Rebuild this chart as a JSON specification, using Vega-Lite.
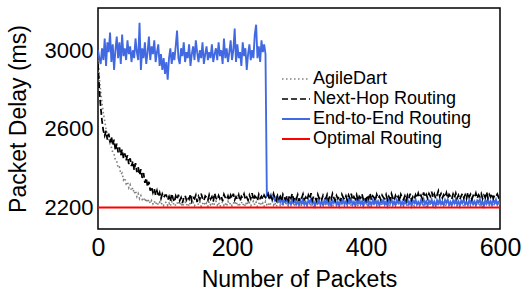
{
"$schema": "https://vega.github.io/schema/vega-lite/v6.json",
"width": 402,
"height": 221,
"autosize": {"type": "none"},
"padding": {"left": 98, "top": 8, "right": 32, "bottom": 74},
"config": {"view": {"stroke": "black", "strokeWidth": 1.5}, "font": "Liberation Sans"},
"encoding": {
  "x": {"field": "x", "type": "quantitative", "scale": {"domain": [0, 600], "nice": false},
        "axis": {"values": [0, 200, 400, 600], "format": "d", "title": "Number of Packets", "grid": false, "ticks": false, "domain": false,
                 "labelFontSize": 25, "titleFontSize": 23, "labelPadding": 6, "titlePadding": 8, "titleFontWeight": "normal",
                 "labelColor": "black", "titleColor": "black", "labelFlush": false}},
  "y": {"field": "y", "type": "quantitative", "scale": {"domain": [2090, 3215], "nice": false, "zero": false},
        "axis": {"values": [2200, 2600, 3000], "format": "d", "title": "Packet Delay (ms)", "grid": false, "ticks": false, "domain": false,
                 "labelFontSize": 22, "titleFontSize": 23, "labelPadding": 5, "titlePadding": 14, "titleFontWeight": "normal",
                 "labelColor": "black", "titleColor": "black"}},
  "color": {"field": "s", "type": "nominal",
            "scale": {"domain": ["a", "n", "e", "o"], "range": ["#808080", "#000000", "#4169e1", "#ff0000"]},
            "legend": {"title": null, "orient": "none", "legendX": 187, "legendY": 60, "symbolType": "M-1.4,0H1.4", "symbolSize": 400,
                       "symbolStrokeWidth": 1.5, "symbolFillColor": "transparent", "labelFontSize": 18, "labelOffset": 6, "rowPadding": 0, "padding": 0, "labelColor": "black",
                       "labelExpr": "datum.label=='a'?'AgileDart':datum.label=='n'?'Next-Hop Routing':datum.label=='e'?'End-to-End Routing':'Optimal Routing'"}},
  "strokeDash": {"field": "s", "type": "nominal",
            "scale": {"domain": ["a", "n", "e", "o"], "range": [[1.5, 2.5], [6, 3], [1, 0], [1, 0]]},
            "legend": {"title": null, "orient": "none", "legendX": 187, "legendY": 60, "symbolType": "M-1.4,0H1.4", "symbolSize": 400,
                       "symbolStrokeWidth": 1.5, "symbolFillColor": "transparent", "labelFontSize": 18, "labelOffset": 6, "rowPadding": 0, "padding": 0, "labelColor": "black",
                       "labelExpr": "datum.label=='a'?'AgileDart':datum.label=='n'?'Next-Hop Routing':datum.label=='e'?'End-to-End Routing':'Optimal Routing'"}},
  "strokeWidth": {"field": "s", "type": "nominal",
            "scale": {"domain": ["a", "n", "e", "o"], "range": [1.6, 2, 1.6, 2]}, "legend": null}
},
"layer": [
{
"data": {"values": [
{"x":0,"a":2950,"n":2930,"e":3000},
{"x":2,"a":2860,"n":2800,"e":2960},
{"x":4,"a":2790,"n":2710,"e":2930},
{"x":6,"a":2730,"n":2640,"e":3010},
{"x":8,"a":2680,"n":2590,"e":2950},
{"x":10,"a":2640,"n":2565,"e":3060},
{"x":12,"a":2600,"n":2590,"e":2920},
{"x":14,"a":2570,"n":2545,"e":3040},
{"x":16,"a":2555,"n":2575,"e":2990},
{"x":18,"a":2520,"n":2530,"e":3090},
{"x":20,"a":2505,"n":2560,"e":2940},
{"x":22,"a":2480,"n":2515,"e":3030},
{"x":24,"a":2470,"n":2545,"e":2900},
{"x":26,"a":2440,"n":2490,"e":3000},
{"x":28,"a":2435,"n":2525,"e":3070},
{"x":30,"a":2400,"n":2480,"e":2960},
{"x":32,"a":2405,"n":2505,"e":3040},
{"x":34,"a":2370,"n":2465,"e":2930},
{"x":36,"a":2375,"n":2495,"e":3080},
{"x":38,"a":2340,"n":2450,"e":2970},
{"x":40,"a":2350,"n":2475,"e":3010},
{"x":42,"a":2320,"n":2440,"e":2950},
{"x":44,"a":2330,"n":2465,"e":3050},
{"x":46,"a":2300,"n":2420,"e":2980},
{"x":48,"a":2315,"n":2450,"e":3020},
{"x":50,"a":2285,"n":2410,"e":2940},
{"x":52,"a":2300,"n":2435,"e":3000},
{"x":54,"a":2270,"n":2390,"e":2960},
{"x":56,"a":2285,"n":2425,"e":3060},
{"x":58,"a":2255,"n":2380,"e":2990},
{"x":60,"a":2270,"n":2405,"e":2950},
{"x":62,"a":2245,"n":2365,"e":3140},
{"x":64,"a":2260,"n":2395,"e":2900},
{"x":66,"a":2240,"n":2350,"e":3010},
{"x":68,"a":2250,"n":2375,"e":2960},
{"x":70,"a":2230,"n":2325,"e":3040},
{"x":72,"a":2245,"n":2350,"e":2930},
{"x":74,"a":2225,"n":2305,"e":2990},
{"x":76,"a":2240,"n":2330,"e":3070},
{"x":78,"a":2220,"n":2285,"e":2950},
{"x":80,"a":2235,"n":2305,"e":3020},
{"x":82,"a":2218,"n":2275,"e":2980},
{"x":84,"a":2232,"n":2295,"e":3050},
{"x":86,"a":2215,"n":2262,"e":2940},
{"x":88,"a":2228,"n":2285,"e":2990},
{"x":90,"a":2212,"n":2255,"e":3030},
{"x":92,"a":2226,"n":2275,"e":2920},
{"x":94,"a":2214,"n":2245,"e":2980},
{"x":96,"a":2224,"n":2268,"e":2900},
{"x":98,"a":2210,"n":2250,"e":2960},
{"x":100,"a":2222,"n":2262,"e":2880},
{"x":102,"a":2228,"n":2262,"e":2940},
{"x":104,"a":2210,"n":2238,"e":2850},
{"x":106,"a":2222,"n":2255,"e":2960},
{"x":108,"a":2206,"n":2230,"e":3010},
{"x":110,"a":2230,"n":2270,"e":2930},
{"x":112,"a":2214,"n":2245,"e":2990},
{"x":114,"a":2224,"n":2228,"e":2950},
{"x":116,"a":2208,"n":2258,"e":3020},
{"x":118,"a":2220,"n":2240,"e":3100},
{"x":120,"a":2232,"n":2265,"e":2960},
{"x":122,"a":2212,"n":2235,"e":2930},
{"x":124,"a":2226,"n":2250,"e":3010},
{"x":126,"a":2204,"n":2222,"e":2970},
{"x":128,"a":2218,"n":2248,"e":3040},
{"x":130,"a":2228,"n":2260,"e":2940},
{"x":132,"a":2210,"n":2238,"e":2990},
{"x":134,"a":2222,"n":2255,"e":2960},
{"x":136,"a":2206,"n":2242,"e":3030},
{"x":138,"a":2230,"n":2268,"e":2920},
{"x":140,"a":2214,"n":2232,"e":2980},
{"x":142,"a":2224,"n":2250,"e":3020},
{"x":144,"a":2208,"n":2244,"e":2950},
{"x":146,"a":2220,"n":2262,"e":3050},
{"x":148,"a":2232,"n":2228,"e":2990},
{"x":150,"a":2212,"n":2256,"e":2940},
{"x":152,"a":2226,"n":2240,"e":3000},
{"x":154,"a":2204,"n":2270,"e":2960},
{"x":156,"a":2218,"n":2246,"e":3040},
{"x":158,"a":2228,"n":2234,"e":2930},
{"x":160,"a":2210,"n":2258,"e":2980},
{"x":162,"a":2222,"n":2250,"e":3020},
{"x":164,"a":2206,"n":2236,"e":2950},
{"x":166,"a":2230,"n":2264,"e":2990},
{"x":168,"a":2214,"n":2242,"e":2960},
{"x":170,"a":2224,"n":2254,"e":3030},
{"x":172,"a":2208,"n":2230,"e":2940},
{"x":174,"a":2220,"n":2272,"e":2980},
{"x":176,"a":2232,"n":2248,"e":3010},
{"x":178,"a":2212,"n":2238,"e":2950},
{"x":180,"a":2226,"n":2260,"e":3040},
{"x":182,"a":2204,"n":2244,"e":2970},
{"x":184,"a":2218,"n":2256,"e":3000},
{"x":186,"a":2228,"n":2232,"e":2930},
{"x":188,"a":2210,"n":2266,"e":3060},
{"x":190,"a":2222,"n":2250,"e":2960},
{"x":192,"a":2206,"n":2240,"e":3010},
{"x":194,"a":2230,"n":2258,"e":2940},
{"x":196,"a":2214,"n":2236,"e":2990},
{"x":198,"a":2224,"n":2262,"e":3050},
{"x":200,"a":2208,"n":2246,"e":2950},
{"x":202,"a":2220,"n":2270,"e":3000},
{"x":204,"a":2232,"n":2238,"e":3110},
{"x":206,"a":2212,"n":2254,"e":2940},
{"x":208,"a":2226,"n":2242,"e":3030},
{"x":210,"a":2204,"n":2264,"e":2960},
{"x":212,"a":2218,"n":2232,"e":2990},
{"x":214,"a":2228,"n":2256,"e":2920},
{"x":216,"a":2210,"n":2248,"e":3040},
{"x":218,"a":2222,"n":2268,"e":2970},
{"x":220,"a":2206,"n":2240,"e":3010},
{"x":222,"a":2230,"n":2252,"e":2900},
{"x":224,"a":2214,"n":2236,"e":2980},
{"x":226,"a":2224,"n":2262,"e":3030},
{"x":228,"a":2208,"n":2244,"e":2950},
{"x":230,"a":2220,"n":2272,"e":3000},
{"x":232,"a":2232,"n":2238,"e":2960},
{"x":234,"a":2212,"n":2258,"e":3080},
{"x":236,"a":2226,"n":2250,"e":3130},
{"x":238,"a":2204,"n":2234,"e":2960},
{"x":240,"a":2218,"n":2266,"e":3020},
{"x":242,"a":2228,"n":2246,"e":2940},
{"x":244,"a":2210,"n":2256,"e":3050},
{"x":246,"a":2222,"n":2240,"e":2990},
{"x":248,"a":2206,"n":2262,"e":3030},
{"x":250,"a":2230,"n":2250,"e":2980},
{"x":252,"a":2214,"n":2244,"e":2262},
{"x":254,"a":2224,"n":2265,"e":2272},
{"x":256,"a":2208,"n":2238,"e":2250},
{"x":258,"a":2220,"n":2256,"e":2264},
{"x":260,"a":2232,"n":2242,"e":2240},
{"x":262,"a":2212,"n":2270,"e":2256},
{"x":264,"a":2226,"n":2248,"e":2236},
{"x":266,"a":2204,"n":2234,"e":2250},
{"x":268,"a":2218,"n":2260,"e":2230},
{"x":270,"a":2228,"n":2244,"e":2246},
{"x":272,"a":2210,"n":2256,"e":2226},
{"x":274,"a":2222,"n":2232,"e":2242},
{"x":276,"a":2206,"n":2266,"e":2220},
{"x":278,"a":2230,"n":2250,"e":2238},
{"x":280,"a":2214,"n":2240,"e":2226},
{"x":282,"a":2224,"n":2258,"e":2244},
{"x":284,"a":2208,"n":2236,"e":2218},
{"x":286,"a":2220,"n":2262,"e":2232},
{"x":288,"a":2232,"n":2246,"e":2214},
{"x":290,"a":2212,"n":2270,"e":2236},
{"x":292,"a":2226,"n":2238,"e":2222},
{"x":294,"a":2204,"n":2254,"e":2240},
{"x":296,"a":2218,"n":2242,"e":2216},
{"x":298,"a":2228,"n":2264,"e":2230},
{"x":300,"a":2210,"n":2232,"e":2212},
{"x":302,"a":2222,"n":2256,"e":2234},
{"x":304,"a":2206,"n":2248,"e":2220},
{"x":306,"a":2230,"n":2268,"e":2240},
{"x":308,"a":2214,"n":2240,"e":2214},
{"x":310,"a":2224,"n":2252,"e":2228},
{"x":312,"a":2208,"n":2236,"e":2210},
{"x":314,"a":2220,"n":2262,"e":2236},
{"x":316,"a":2232,"n":2244,"e":2222},
{"x":318,"a":2212,"n":2272,"e":2242},
{"x":320,"a":2226,"n":2238,"e":2218},
{"x":322,"a":2204,"n":2258,"e":2230},
{"x":324,"a":2218,"n":2250,"e":2208},
{"x":326,"a":2228,"n":2234,"e":2234},
{"x":328,"a":2210,"n":2266,"e":2220},
{"x":330,"a":2222,"n":2246,"e":2238},
{"x":332,"a":2206,"n":2256,"e":2214},
{"x":334,"a":2230,"n":2240,"e":2228},
{"x":336,"a":2214,"n":2262,"e":2212},
{"x":338,"a":2224,"n":2250,"e":2236},
{"x":340,"a":2208,"n":2244,"e":2220},
{"x":342,"a":2220,"n":2265,"e":2242},
{"x":344,"a":2232,"n":2238,"e":2216},
{"x":346,"a":2212,"n":2256,"e":2230},
{"x":348,"a":2226,"n":2242,"e":2210},
{"x":350,"a":2204,"n":2270,"e":2234},
{"x":352,"a":2218,"n":2248,"e":2222},
{"x":354,"a":2228,"n":2234,"e":2240},
{"x":356,"a":2210,"n":2260,"e":2214},
{"x":358,"a":2222,"n":2244,"e":2228},
{"x":360,"a":2206,"n":2256,"e":2208},
{"x":362,"a":2230,"n":2232,"e":2236},
{"x":364,"a":2214,"n":2266,"e":2220},
{"x":366,"a":2224,"n":2250,"e":2242},
{"x":368,"a":2208,"n":2240,"e":2216},
{"x":370,"a":2220,"n":2258,"e":2230},
{"x":372,"a":2232,"n":2236,"e":2212},
{"x":374,"a":2212,"n":2262,"e":2238},
{"x":376,"a":2226,"n":2246,"e":2222},
{"x":378,"a":2204,"n":2270,"e":2240},
{"x":380,"a":2218,"n":2238,"e":2214},
{"x":382,"a":2228,"n":2254,"e":2228},
{"x":384,"a":2210,"n":2242,"e":2210},
{"x":386,"a":2222,"n":2264,"e":2236},
{"x":388,"a":2206,"n":2232,"e":2220},
{"x":390,"a":2230,"n":2256,"e":2242},
{"x":392,"a":2214,"n":2248,"e":2216},
{"x":394,"a":2224,"n":2268,"e":2230},
{"x":396,"a":2208,"n":2240,"e":2208},
{"x":398,"a":2220,"n":2252,"e":2234},
{"x":400,"a":2232,"n":2236,"e":2222},
{"x":402,"a":2212,"n":2262,"e":2240},
{"x":404,"a":2226,"n":2244,"e":2214},
{"x":406,"a":2204,"n":2272,"e":2228},
{"x":408,"a":2218,"n":2238,"e":2212},
{"x":410,"a":2228,"n":2258,"e":2236},
{"x":412,"a":2210,"n":2250,"e":2220},
{"x":414,"a":2222,"n":2234,"e":2242},
{"x":416,"a":2206,"n":2266,"e":2216},
{"x":418,"a":2230,"n":2246,"e":2230},
{"x":420,"a":2214,"n":2256,"e":2210},
{"x":422,"a":2224,"n":2240,"e":2234},
{"x":424,"a":2208,"n":2262,"e":2222},
{"x":426,"a":2220,"n":2250,"e":2240},
{"x":428,"a":2232,"n":2244,"e":2214},
{"x":430,"a":2212,"n":2265,"e":2228},
{"x":432,"a":2226,"n":2238,"e":2208},
{"x":434,"a":2204,"n":2256,"e":2236},
{"x":436,"a":2218,"n":2242,"e":2220},
{"x":438,"a":2228,"n":2270,"e":2242},
{"x":440,"a":2210,"n":2248,"e":2216},
{"x":442,"a":2222,"n":2234,"e":2230},
{"x":444,"a":2206,"n":2260,"e":2212},
{"x":446,"a":2230,"n":2244,"e":2238},
{"x":448,"a":2214,"n":2256,"e":2222},
{"x":450,"a":2224,"n":2232,"e":2240},
{"x":452,"a":2208,"n":2266,"e":2214},
{"x":454,"a":2220,"n":2250,"e":2228},
{"x":456,"a":2232,"n":2240,"e":2210},
{"x":458,"a":2212,"n":2258,"e":2236},
{"x":460,"a":2226,"n":2236,"e":2220},
{"x":462,"a":2204,"n":2262,"e":2242},
{"x":464,"a":2218,"n":2246,"e":2216},
{"x":466,"a":2228,"n":2270,"e":2230},
{"x":468,"a":2210,"n":2238,"e":2208},
{"x":470,"a":2222,"n":2254,"e":2234},
{"x":472,"a":2206,"n":2242,"e":2222},
{"x":474,"a":2230,"n":2264,"e":2240},
{"x":476,"a":2214,"n":2248,"e":2214},
{"x":478,"a":2224,"n":2272,"e":2228},
{"x":480,"a":2208,"n":2250,"e":2212},
{"x":482,"a":2220,"n":2262,"e":2236},
{"x":484,"a":2232,"n":2244,"e":2220},
{"x":486,"a":2212,"n":2276,"e":2242},
{"x":488,"a":2226,"n":2252,"e":2216},
{"x":490,"a":2204,"n":2266,"e":2230},
{"x":492,"a":2218,"n":2246,"e":2210},
{"x":494,"a":2228,"n":2270,"e":2234},
{"x":496,"a":2210,"n":2256,"e":2222},
{"x":498,"a":2222,"n":2280,"e":2240},
{"x":500,"a":2206,"n":2250,"e":2214},
{"x":502,"a":2230,"n":2268,"e":2228},
{"x":504,"a":2214,"n":2244,"e":2208},
{"x":506,"a":2224,"n":2262,"e":2236},
{"x":508,"a":2208,"n":2284,"e":2220},
{"x":510,"a":2220,"n":2256,"e":2242},
{"x":512,"a":2232,"n":2270,"e":2216},
{"x":514,"a":2212,"n":2248,"e":2230},
{"x":516,"a":2226,"n":2264,"e":2212},
{"x":518,"a":2204,"n":2252,"e":2238},
{"x":520,"a":2218,"n":2274,"e":2222},
{"x":522,"a":2228,"n":2246,"e":2240},
{"x":524,"a":2210,"n":2266,"e":2214},
{"x":526,"a":2222,"n":2256,"e":2228},
{"x":528,"a":2206,"n":2242,"e":2210},
{"x":530,"a":2230,"n":2268,"e":2236},
{"x":532,"a":2214,"n":2250,"e":2220},
{"x":534,"a":2224,"n":2272,"e":2242},
{"x":536,"a":2208,"n":2246,"e":2216},
{"x":538,"a":2220,"n":2262,"e":2230},
{"x":540,"a":2232,"n":2240,"e":2208},
{"x":542,"a":2212,"n":2258,"e":2234},
{"x":544,"a":2226,"n":2270,"e":2222},
{"x":546,"a":2204,"n":2248,"e":2240},
{"x":548,"a":2218,"n":2264,"e":2214},
{"x":550,"a":2228,"n":2244,"e":2228},
{"x":552,"a":2210,"n":2276,"e":2212},
{"x":554,"a":2222,"n":2252,"e":2236},
{"x":556,"a":2206,"n":2266,"e":2220},
{"x":558,"a":2230,"n":2242,"e":2242},
{"x":560,"a":2214,"n":2260,"e":2216},
{"x":562,"a":2224,"n":2250,"e":2230},
{"x":564,"a":2208,"n":2272,"e":2210},
{"x":566,"a":2220,"n":2246,"e":2234},
{"x":568,"a":2232,"n":2264,"e":2222},
{"x":570,"a":2212,"n":2254,"e":2240},
{"x":572,"a":2226,"n":2270,"e":2214},
{"x":574,"a":2204,"n":2244,"e":2228},
{"x":576,"a":2218,"n":2262,"e":2208},
{"x":578,"a":2228,"n":2250,"e":2236},
{"x":580,"a":2210,"n":2278,"e":2220},
{"x":582,"a":2222,"n":2248,"e":2242},
{"x":584,"a":2206,"n":2266,"e":2216},
{"x":586,"a":2230,"n":2252,"e":2230},
{"x":588,"a":2214,"n":2270,"e":2212},
{"x":590,"a":2224,"n":2246,"e":2238},
{"x":592,"a":2208,"n":2262,"e":2222},
{"x":594,"a":2220,"n":2256,"e":2240},
{"x":596,"a":2232,"n":2268,"e":2214},
{"x":598,"a":2212,"n":2250,"e":2228},
{"x":600,"a":2226,"n":2262,"e":2224}
]},
"transform": [{"fold": ["a", "e", "n"], "as": ["s", "y"]}],
"mark": {"type": "line", "clip": true}
},
{
"data": {"values": [{"x": 0, "s": "o", "y": 2200}, {"x": 600, "s": "o", "y": 2200}]},
"mark": {"type": "line", "clip": true}
}
]
}
